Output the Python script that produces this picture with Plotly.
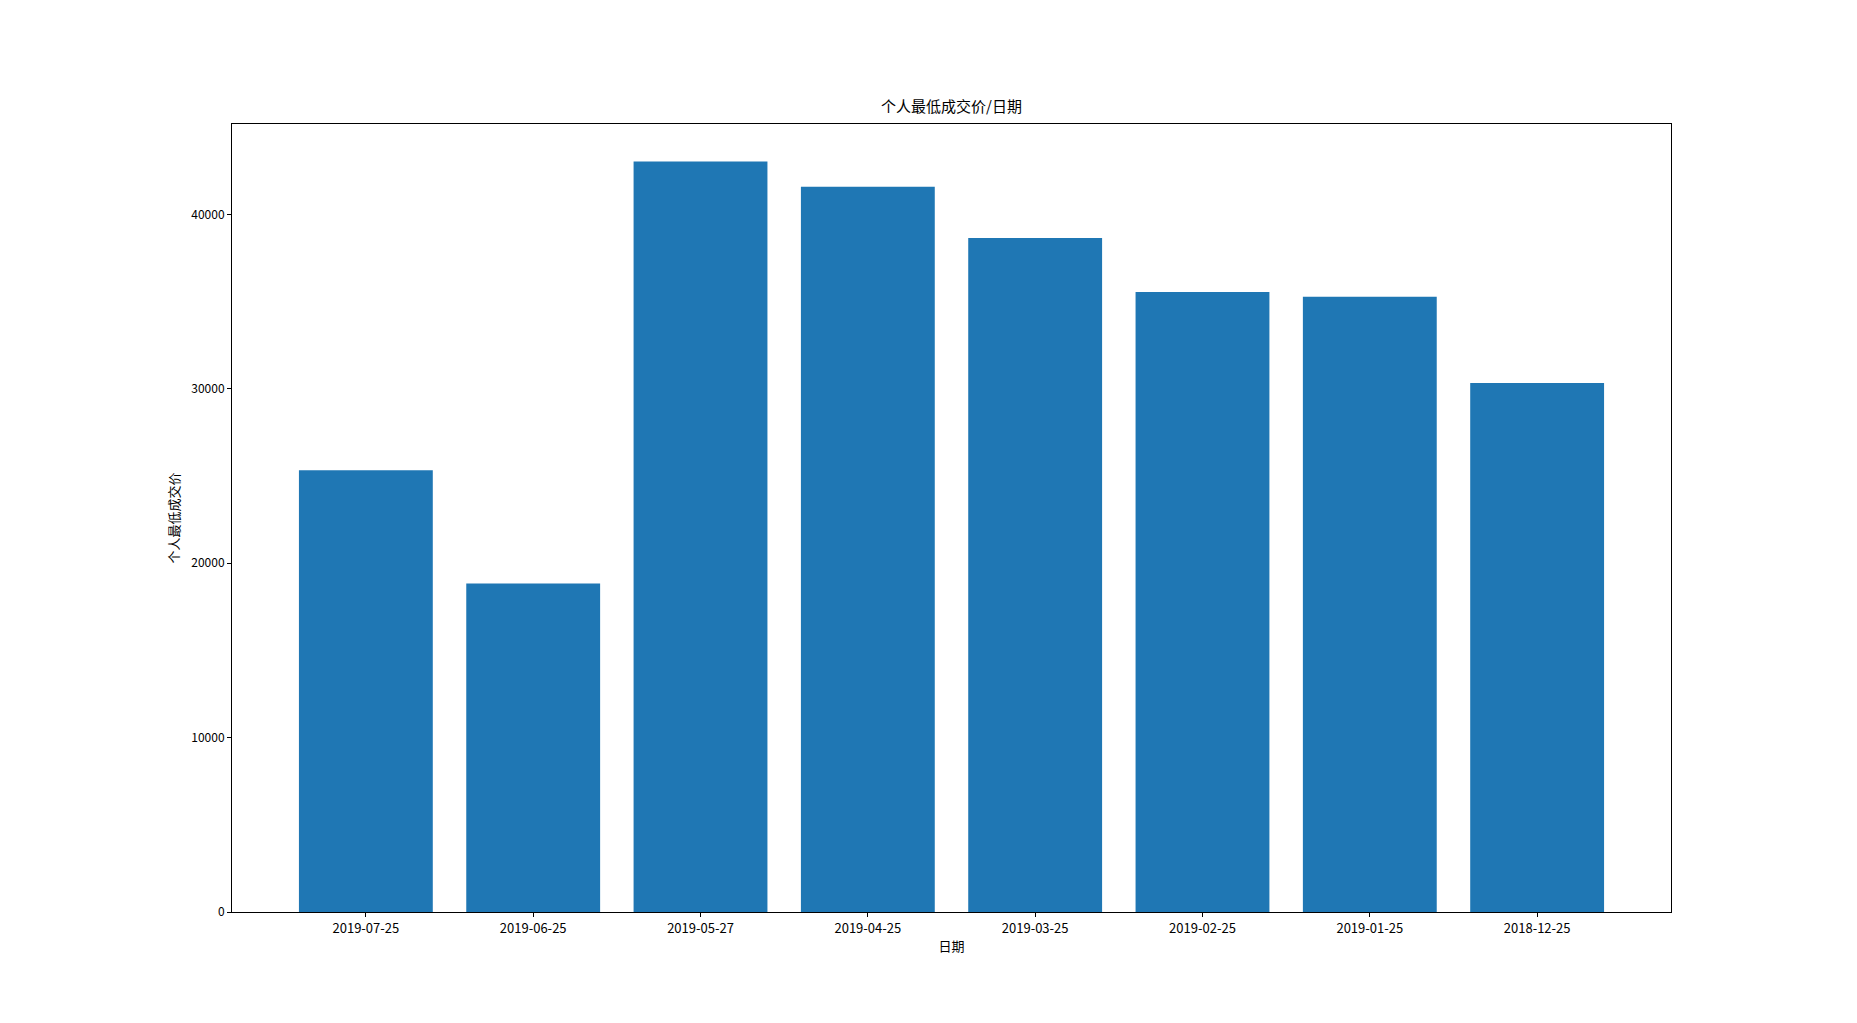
# -*- coding: utf-8 -*-
import plotly.graph_objects as go

dates = ["2019-07-25", "2019-06-25", "2019-05-27", "2019-04-25",
         "2019-03-25", "2019-02-25", "2019-01-25", "2018-12-25"]
prices = [25330, 18840, 43030, 41580, 38650, 35550, 35270, 30330]
y_ticks = [0, 10000, 20000, 30000, 40000]

FONT = "Noto Sans CJK SC"
PAGE_OFF = 8  # body margin of the html page

fig = go.Figure()
fig.add_trace(go.Bar(
    x=dates, y=prices,
    marker=dict(color="#1f77b4", line=dict(width=0)),
    width=0.8,
))

fig.update_layout(
    width=1857, height=1023,
    paper_bgcolor="white", plot_bgcolor="white",
    margin=dict(l=232 - PAGE_OFF, r=186 + PAGE_OFF,
                t=124 - PAGE_OFF, b=111 + PAGE_OFF),
    font=dict(family=FONT, size=12, color="black"),
    title=dict(text="个人最低成交价/日期", x=0.5, xanchor="center",
               xref="paper", y=1 - (107 - PAGE_OFF) / 1023, yanchor="middle",
               font=dict(size=15)),
    showlegend=False,
)

fig.update_xaxes(
    type="category", range=[-0.8, 7.8],
    showline=True, linecolor="black", linewidth=1, mirror=True,
    ticks="outside", ticklen=4, tickcolor="black",
    tickfont=dict(size=13),
    showgrid=False,
    title=dict(text="日期", standoff=6, font=dict(size=13)),
)
fig.update_yaxes(
    range=[0, 43030 * 1.05],
    tickvals=y_ticks, ticktext=[str(v) for v in y_ticks],
    showline=True, linecolor="black", linewidth=1, mirror=True,
    ticks="outside", ticklen=4, tickcolor="black",
    showgrid=False, zeroline=False,
    title=dict(text="个人最低成交价", standoff=8, font=dict(size=13)),
)

fig.write_html("out.html")
